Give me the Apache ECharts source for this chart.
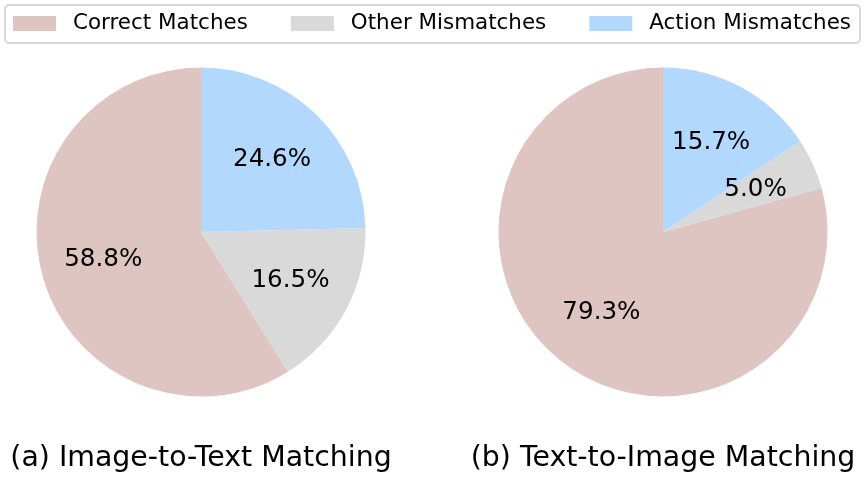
<!DOCTYPE html>
<html>
<head>
<meta charset="utf-8">
<script src="https://cdn.jsdelivr.net/npm/echarts@6/dist/echarts.min.js"></script>
<style>
  html, body { margin: 0; padding: 0; background: #fff; }
  #main { width: 864px; height: 479px; }
</style>
</head>
<body>
<div id="main"></div>
<script>
// categories and values
const categories = ['Correct Matches', 'Other Mismatches', 'Action Mismatches']
const colors = ['#dfc5c1', '#d9d9d9', '#b3d8fe']
const imageToText = [58.8, 16.5, 24.6]
const textToImage = [79.3, 5.0, 15.7]
const titles = ['(a) Image-to-Text Matching', '(b) Text-to-Image Matching']

const FONT = 'DejaVu Sans'
const R = 164.5
const centers = [[201, 232], [663, 232]]

function toData (values) {
  return values.map((v, i) => ({ name: categories[i], value: v, itemStyle: { color: colors[i] } }))
}

function pieSeries (values, center) {
  // the slices themselves (matplotlib style: start at top, counter-clockwise)
  const main = {
    type: 'pie',
    center: center,
    radius: [0, R],
    startAngle: 90,
    clockwise: false,
    silent: true,
    label: { show: false },
    labelLine: { show: false },
    data: toData(values)
  }
  // transparent ring whose midline sits at 0.6 R, only used to place the % labels
  const labels = {
    type: 'pie',
    center: center,
    radius: [R * 0.2, R],
    startAngle: 90,
    clockwise: false,
    silent: true,
    itemStyle: { color: 'rgba(0,0,0,0)' },
    label: {
      show: true,
      position: 'inside',
      fontFamily: FONT,
      fontSize: 24.6,
      color: '#000',
      formatter: p => p.value.toFixed(1) + '%'
    },
    labelLine: { show: false },
    data: values.map((v, i) => ({ name: categories[i], value: v, itemStyle: { color: 'rgba(0,0,0,0)' } }))
  }
  return [main, labels]
}

const chart = echarts.init(document.getElementById('main'))
chart.setOption({
  animation: false,
  backgroundColor: '#fff',
  title: titles.map((t, i) => ({
    text: t,
    left: centers[i][0],
    top: 445,
    padding: 0,
    textAlign: 'center',
    textStyle: { fontFamily: FONT, fontSize: 28.4, fontWeight: 'normal', color: '#000' }
  })),
  legend: {
    left: 5,
    top: 5,
    padding: [8, 9, 9, 8],
    itemWidth: 43,
    itemHeight: 15,
    itemGap: 43,
    icon: 'rect',
    borderColor: '#cccccc',
    borderWidth: 1.5,
    borderRadius: 4,
    selectedMode: false,
    data: categories,
    textStyle: { fontFamily: FONT, fontSize: 21.45, color: '#000', padding: [0, 0, 0, 12] }
  },
  series: [
    ...pieSeries(imageToText, centers[0]),
    ...pieSeries(textToImage, centers[1])
  ]
})
</script>
</body>
</html>
